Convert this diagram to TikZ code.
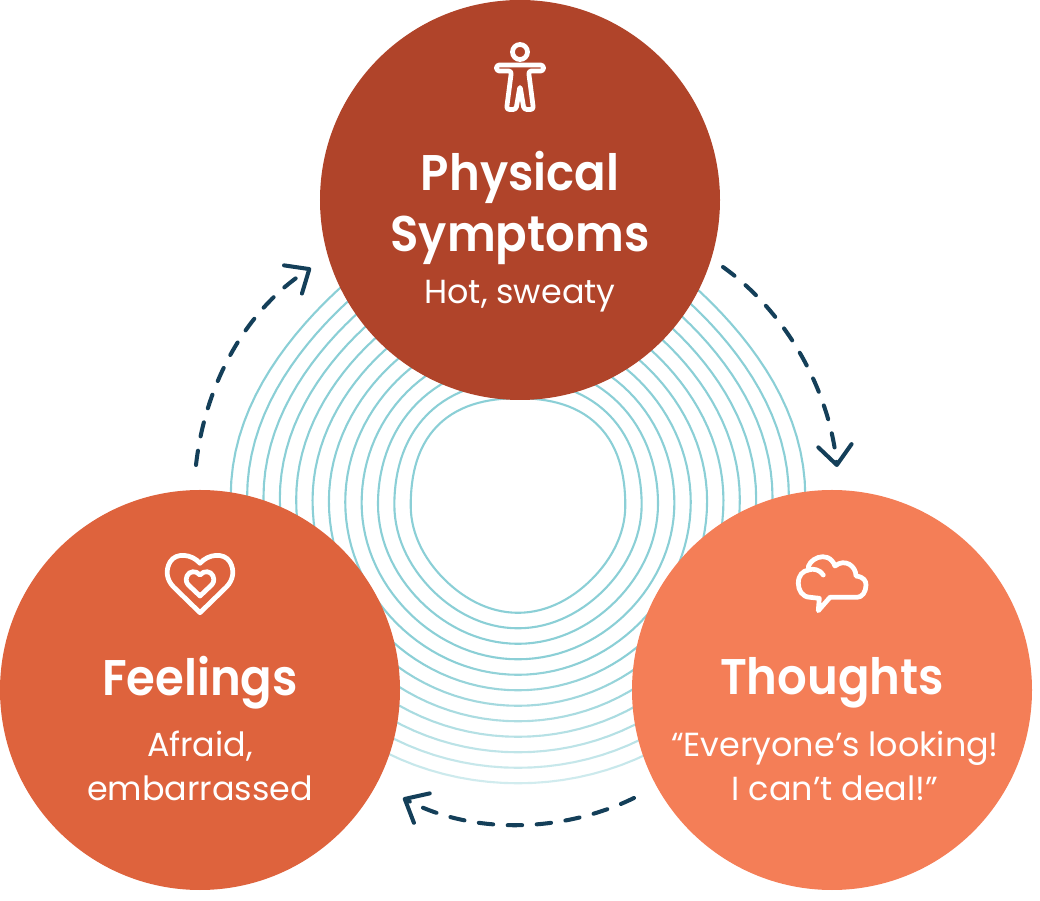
\documentclass[tikz,border=0pt]{standalone}
\usepackage{fontspec}
\setmainfont{Poppins}
\newfontfamily\headfont[FakeStretch=0.93]{Poppins SemiBold}
\usetikzlibrary{arrows.meta,fadings}
\definecolor{physred}{HTML}{B0442A}
\definecolor{feelred}{HTML}{DE633D}
\definecolor{thoughtred}{HTML}{F47E57}
\definecolor{ringblue}{HTML}{8BCFD6}
\definecolor{arrownavy}{HTML}{143F59}
\tikzfading[name=ringfade,top color=transparent!100,bottom color=transparent!30]
\begin{document}
\begin{tikzpicture}[x=0.2mm,y=0.2mm,
    declare function={ringr(\t,\i)=107.3+16.36*\i+((sin(\t)>0)?(6-1.8*\i):(-3+0.45*\i))*sin(2*\t)^2;},
    blob/.style={circle,minimum size=8cm,inner sep=0pt},
    ring/.style={ringblue,line width=1.2pt},
    loop arrow/.style={arrownavy,line width=2.3pt,line cap=round,dash pattern=on 8.2pt off 8.3pt,
      -{Straight Barb[round,length=11pt,width=19pt,line width=2.3pt]}},
    icon/.style={white,line width=2.7pt,line join=round,line cap=round},
    head/.style={white,font=\headfont\fontsize{28.5}{34.5}\selectfont,align=center,inner sep=0pt},
    sub/.style={white,font=\fontsize{19}{25}\selectfont,align=center,inner sep=0pt}]
  \useasboundingbox (0,0) rectangle (1040,-901);
  % rings
  \foreach \i in {0,...,11}
    \draw [ring] plot [domain=0:360,samples=121]
      ({518+ringr(\x,\i)*cos(\x)},{-505.5+0.86*\i+ringr(\x,\i)*sin(\x)});
  \fill [white,path fading=ringfade] (340,-660) rectangle (700,-800);
  % circles
  \node [blob,fill=physred] (phys) at (520,-200) {};
  \node [blob,fill=feelred] (feel) at (200,-690) {};
  \node [blob,fill=thoughtred] (thought) at (832,-690) {};
  % arrows
  \coordinate (physout) at (723,-267);
  \coordinate (thoughtin) at (837,-467);
  \coordinate (thoughtout) at (634,-798);
  \coordinate (feelin) at (403,-798);
  \coordinate (feelout) at (196,-465);
  \coordinate (physin) at (311,-268);
  \draw [loop arrow] (physout) .. controls (790,-315) and (830,-395) .. (thoughtin);
  \draw [loop arrow] (thoughtout) .. controls (560,-834) and (470,-834) .. (feelin);
  \draw [loop arrow] (feelout) .. controls (205,-385) and (245,-310) .. (physin);
  % body icon
  \draw [icon] (520,-52) circle (7.5);
  \draw [icon,rounded corners=1.6pt] (496.5,-65) -- (543.5,-65) -- (543.5,-71) -- (528.5,-71)
    -- (533.5,-109.5) -- (524,-109.5) -- (520,-86) -- (516,-109.5) -- (506.5,-109.5) -- (511.5,-71)
    -- (496.5,-71) -- cycle;
  % heart icon
  \draw [icon] (200,-563.3) .. controls (192,-554) and (176,-552) .. (170,-562)
    .. controls (165,-571) and (167,-580) .. (173.3,-586.7) -- (200,-612.7) -- (226.7,-586.7)
    .. controls (233,-580) and (235,-571) .. (230,-562) .. controls (224,-552) and (208,-554) .. cycle;
  \draw [icon] (200,-575) .. controls (196,-570) and (189,-571) .. (187,-576)
    .. controls (185,-581) and (187,-584) .. (190,-586.5) -- (200,-596) -- (210,-586.5)
    .. controls (213,-584) and (215,-581) .. (213,-576) .. controls (211,-571) and (204,-570) .. cycle;
  % cloud icon
  \draw [icon] (818.3,-610.7) -- (819.3,-598.3) -- (810,-597.3)
    .. controls (802,-597) and (798.3,-590) .. (798.3,-583.3)
    .. controls (798.3,-575) and (803,-571) .. (808.3,-570)
    .. controls (806,-560) and (828,-548) .. (835,-566)
    .. controls (845,-558) and (856,-566) .. (856,-576)
    .. controls (864,-577) and (866,-581) .. (866,-585)
    .. controls (866,-592) and (862,-597.3) .. (857.3,-597.3) -- (830,-597.3) -- cycle;
  \draw [icon] (808.3,-570) .. controls (814,-568) and (820,-570) .. (823.3,-575);
  % labels
  \node [head] (physhead) at (520,-208) {Physical\\Symptoms};
  \node [sub] (physsub) at (520,-296) {Hot, sweaty};
  \node [head] (feelhead) at (200,-683) {Feelings};
  \node [sub] (feelsub) at (200,-766) {Afraid,\\embarrassed};
  \node [head] (thoughthead) at (832,-683) {Thoughts};
  \node [sub] (thoughtsub) at (835,-766) {“Everyone’s looking!\\I can’t deal!”};
\end{tikzpicture}
\end{document}
